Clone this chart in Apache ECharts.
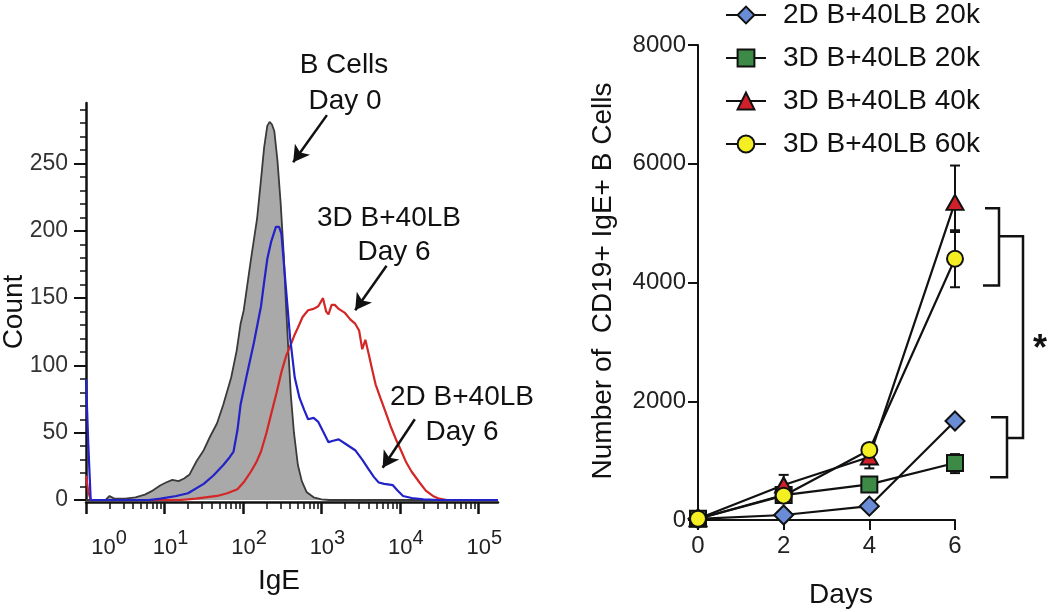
<!DOCTYPE html>
<html>
<head>
<meta charset="utf-8">
<script src="https://cdn.jsdelivr.net/npm/echarts@6/dist/echarts.min.js"></script>
<style>
  html, body { margin: 0; padding: 0; background: #fff; }
  #main { width: 1050px; height: 612px; }
</style>
</head>
<body>
<div id="main"></div>
<script>
// left panel: histogram, x = log10(IgE), y = count
const decades = [0, 1, 2, 3, 4, 5]
const countTicks = [0, 50, 100, 150, 200, 250]
const bCellsDay0 = [[0, 0], [0.05, 0], [0.25, 0], [0.3, 3], [0.36, 1], [0.5, 1], [0.63, 2], [0.75, 4], [0.85, 7], [0.95, 11],
  [1.02, 13], [1.1, 15], [1.18, 14], [1.25, 16], [1.32, 19], [1.41, 29], [1.5, 37], [1.58, 47], [1.67, 57], [1.75, 71],
  [1.85, 91], [1.92, 111], [1.97, 131], [2.01, 141], [2.1, 178], [2.18, 209], [2.23, 238], [2.27, 262], [2.31, 278],
  [2.34, 281], [2.37, 279], [2.4, 274], [2.44, 252], [2.48, 221], [2.52, 182], [2.55, 143], [2.58, 110], [2.61, 78],
  [2.65, 50], [2.7, 26], [2.75, 14], [2.81, 6], [2.9, 2], [3.0, 0.5], [3.1, 0], [5.25, 0]]
const d3Day6 = [[0, 18], [0.03, 6], [0.06, 0], [1.2, 0], [1.4, 1], [1.67, 3], [1.8, 5], [1.93, 8], [2.02, 14], [2.1, 21],
  [2.17, 28], [2.23, 36], [2.3, 50], [2.36, 64], [2.43, 80], [2.49, 95], [2.55, 107], [2.62, 117], [2.66, 123], [2.7, 128],
  [2.76, 136], [2.83, 141], [2.9, 142], [2.96, 144], [3.02, 150], [3.06, 140], [3.09, 138], [3.13, 145], [3.17, 145],
  [3.22, 142], [3.3, 139], [3.37, 134], [3.43, 131], [3.48, 126], [3.52, 112], [3.56, 119], [3.6, 109], [3.65, 96],
  [3.69, 86], [3.75, 76], [3.82, 65], [3.88, 55], [3.95, 45], [4.02, 36], [4.08, 28], [4.15, 21], [4.25, 13], [4.33, 7],
  [4.42, 3], [4.5, 1], [4.6, 0], [5.25, 0]]
const d2Day6 = [[0, 90], [0.03, 40], [0.06, 0], [0.8, 0], [0.95, 1], [1.15, 3], [1.3, 5], [1.5, 12], [1.62, 18], [1.75, 26],
  [1.82, 31], [1.88, 36], [1.93, 52], [1.97, 71], [2.05, 93], [2.14, 117], [2.23, 144], [2.27, 162], [2.31, 179],
  [2.36, 192], [2.42, 203], [2.46, 203], [2.49, 198], [2.52, 177], [2.55, 156], [2.6, 121], [2.66, 91], [2.72, 76],
  [2.78, 67], [2.83, 60], [2.9, 61], [2.96, 58], [3.02, 51], [3.09, 43], [3.15, 44], [3.22, 45], [3.3, 42], [3.43, 37],
  [3.52, 30], [3.6, 23], [3.67, 17], [3.73, 13], [3.8, 12], [3.91, 11], [3.97, 7], [4.04, 3], [4.15, 1.5], [4.3, 0.5],
  [4.5, 0], [5.25, 0]]

// right panel: time course
const days = [0, 2, 4, 6]
const dayTicks = [0, 2, 4, 6]
const seriesNames = ['2D B+40LB 20k', '3D B+40LB 20k', '3D B+40LB 40k', '3D B+40LB 60k']
const twoD20k = [20, 84, 233, 1667]
const threeD20k = [20, 420, 600, 960]
const threeD40k = [20, 590, 1060, 5350]
const threeD60k = [20, 410, 1180, 4400]
// error bars: [day, low, high]
const err3D20k = [[6, 790, 1110]]
const err3D40k = [[2, 420, 760], [4, 870, 1255], [6, 4850, 5970]]
const err3D60k = [[6, 3920, 4880]]

const FONT = 'Liberation Sans, Arial, Helvetica, sans-serif'
const INK = '#111'

// minor log ticks 2..9 in each decade
const minorX = []
decades.forEach(function (n) {
  for (let k = 2; k <= 9; k++) {
    const v = n + Math.log10(k)
    if (v <= 5.25) minorX.push(v)
  }
})
const minorY = []
for (let c = 10; c <= 290; c += 10) {
  if (c % 50 !== 0) minorY.push(c)
}

function pairs (ys) {
  return days.map(function (d, i) { return [d, ys[i]] })
}

function errorRender (params, api) {
  const x = api.value(0)
  const lo = api.coord([x, api.value(1)])
  const hi = api.coord([x, api.value(2)])
  const w = 5
  const style = { stroke: INK, lineWidth: 2 }
  return {
    type: 'group',
    children: [
      { type: 'line', shape: { x1: lo[0], y1: lo[1], x2: hi[0], y2: hi[1] }, style: style },
      { type: 'line', shape: { x1: lo[0] - w, y1: lo[1], x2: lo[0] + w, y2: lo[1] }, style: style },
      { type: 'line', shape: { x1: hi[0] - w, y1: hi[1], x2: hi[0] + w, y2: hi[1] }, style: style }
    ]
  }
}

function errSeries (data) {
  return {
    type: 'custom',
    xAxisIndex: 2,
    yAxisIndex: 2,
    renderItem: errorRender,
    data: data,
    z: 1,
    silent: true
  }
}

const markerColors = ['#6a8cd6', '#3d8a47', '#d0202a', '#f3ef22']
const markerShapes = ['diamond', 'rect', 'triangle', 'circle']
const markerSizes = [[19, 19], [16, 16], [17, 15], [16, 16]]
const courseData = [twoD20k, threeD20k, threeD40k, threeD60k]

const courseSeries = courseData.map(function (ys, i) {
  return {
    name: seriesNames[i],
    type: 'line',
    xAxisIndex: 2,
    yAxisIndex: 2,
    data: pairs(ys),
    symbol: markerShapes[i],
    symbolSize: markerSizes[i],
    showAllSymbol: true,
    itemStyle: { color: markerColors[i], borderColor: INK, borderWidth: 2 },
    lineStyle: { color: INK, width: 2.2 },
    z: 3 + i
  }
})

const chart = echarts.init(document.getElementById('main'))

const option = {
  animation: false,
  textStyle: { fontFamily: FONT },
  grid: [
    { left: 86, top: 103, width: 412, height: 397 },
    { left: 698, top: 45, width: 257, height: 475 }
  ],
  legend: {
    data: seriesNames,
    orient: 'vertical',
    left: 720,
    top: -4,
    itemWidth: 40,
    itemHeight: 21,
    itemGap: 15,
    textStyle: { fontSize: 28, color: INK, fontFamily: FONT, lineHeight: 28, padding: [0, 0, 0, 12] }
  },
  xAxis: [
    {
      gridIndex: 0, type: 'value', min: 0, max: 5.25, position: 'bottom',
      axisLine: { show: true, onZero: false, lineStyle: { color: INK, width: 2.5 } },
      offset: 2,
      splitLine: { show: false },
      axisTick: { show: true, customValues: decades, length: 12, lineStyle: { color: INK, width: 2.5 } },
      axisLabel: {
        customValues: decades,
        margin: 26,
        color: '#222',
        formatter: function (v) { return (v === 0 ? '{b0|10}' : '{b|10}') + '{s|' + v + '}' },
        rich: {
          b: { fontSize: 22, fontFamily: FONT, color: '#222', padding: [0, 0, 0, 12] },
          b0: { fontSize: 22, fontFamily: FONT, color: '#222', padding: [0, 0, 0, 46] },
          s: { fontSize: 20, fontFamily: FONT, color: '#222', padding: [0, 0, 20, 0] }
        }
      }
    },
    {
      gridIndex: 0, type: 'value', min: 0, max: 5.25, position: 'bottom',
      axisLine: { show: false, onZero: false },
      offset: 2,
      splitLine: { show: false },
      axisLabel: { show: false },
      axisTick: { show: true, customValues: minorX, length: 7, lineStyle: { color: INK, width: 1.5 } }
    },
    {
      gridIndex: 1, type: 'value', min: 0, max: 6, interval: 2,
      splitLine: { show: false },
      axisLine: { lineStyle: { color: INK, width: 2 } },
      axisTick: { length: 10, lineStyle: { color: INK, width: 2 } },
      axisLabel: { fontSize: 24, color: '#222', margin: 14, customValues: dayTicks }
    }
  ],
  yAxis: [
    {
      gridIndex: 0, type: 'value', min: 0, max: 295, position: 'left',
      splitLine: { show: false },
      axisLine: { lineStyle: { color: INK, width: 2.5 } },
      axisTick: { customValues: countTicks, length: 12, lineStyle: { color: INK, width: 2 } },
      axisLabel: { customValues: countTicks, fontSize: 23, color: '#333', margin: 18 }
    },
    {
      gridIndex: 0, type: 'value', min: 0, max: 295, position: 'left',
      splitLine: { show: false },
      axisLine: { show: false },
      axisLabel: { show: false },
      axisTick: { customValues: minorY, length: 6, lineStyle: { color: INK, width: 1.5 } }
    },
    {
      gridIndex: 1, type: 'value', min: 0, max: 8000, interval: 2000,
      splitLine: { show: false },
      axisLine: { lineStyle: { color: INK, width: 2 } },
      axisTick: { length: 10, lineStyle: { color: INK, width: 2 } },
      axisLabel: { fontSize: 24, color: '#222', margin: 12, formatter: function (v) { return String(v) } }
    }
  ],
  series: [
    {
      type: 'line', xAxisIndex: 0, yAxisIndex: 0, data: bCellsDay0, showSymbol: false,
      lineStyle: { color: '#3a3a3a', width: 1.8 },
      areaStyle: { color: '#a9a9a9', opacity: 1 },
      z: 2,
      markLine: {
        silent: true,
        symbol: ['none', 'arrow'],
        symbolSize: [14, 16],
        label: { show: false },
        lineStyle: { color: INK, width: 2.5, type: 'solid' },
        data: [
          [{ coord: [3.07, 286] }, { coord: [2.64, 251] }],
          [{ coord: [3.83, 174] }, { coord: [3.43, 141] }],
          [{ coord: [4.19, 60] }, { coord: [3.78, 24] }]
        ]
      }
    },
    {
      type: 'line', xAxisIndex: 0, yAxisIndex: 0, data: d3Day6, showSymbol: false,
      lineStyle: { color: '#d42626', width: 2.2 }, z: 3
    },
    {
      type: 'line', xAxisIndex: 0, yAxisIndex: 0, data: d2Day6, showSymbol: false,
      lineStyle: { color: '#2222c8', width: 2.2 }, z: 4
    },
    errSeries(err3D20k),
    errSeries(err3D40k),
    errSeries(err3D60k)
  ].concat(courseSeries)
}

chart.setOption(option)

// annotations: titles, labels, significance brackets
function py (v) { return chart.convertToPixel({ gridIndex: 1 }, [6, v])[1] }
const x6 = chart.convertToPixel({ gridIndex: 1 }, [6, 0])[0]
const bracketStyle = { stroke: INK, lineWidth: 2.5, fill: null }

function txt (s, x, y, size, rot, weight) {
  return {
    type: 'text', x: x, y: y, rotation: rot || 0,
    style: { text: s, font: (weight || 'normal') + ' ' + size + 'px ' + FONT, fill: INK, align: 'center', verticalAlign: 'middle' },
    z: 100
  }
}

chart.setOption({
  graphic: [
    txt('Count', 14, 312, 28, Math.PI / 2),
    txt('IgE', 279, 581, 28),
    txt('B Cells', 344, 65, 28),
    txt('Day 0', 345, 101, 28),
    txt('3D B+40LB', 389, 218, 28),
    txt('Day 6', 394, 252, 28),
    txt('2D B+40LB', 462, 397, 28),
    txt('Day 6', 462, 432, 28),
    txt('Number of  CD19+ IgE+ B Cells', 603, 281, 28, Math.PI / 2),
    txt('Days', 841, 595, 28),
    txt('*', x6 + 85, py(3000) + 8, 36, 0, 'bold'),
    {
      type: 'polyline', z: 100,
      shape: { points: [[x6 + 30, py(5250)], [x6 + 44, py(5250)], [x6 + 44, py(3950)], [x6 + 28, py(3950)]] },
      style: bracketStyle
    },
    {
      type: 'polyline', z: 100,
      shape: { points: [[x6 + 36, py(1730)], [x6 + 52, py(1730)], [x6 + 52, py(720)], [x6 + 35, py(720)]] },
      style: bracketStyle
    },
    {
      type: 'polyline', z: 100,
      shape: { points: [[x6 + 44, py(4780)], [x6 + 68, py(4780)], [x6 + 68, py(1380)], [x6 + 52, py(1380)]] },
      style: bracketStyle
    }
  ]
})
</script>
</body>
</html>
